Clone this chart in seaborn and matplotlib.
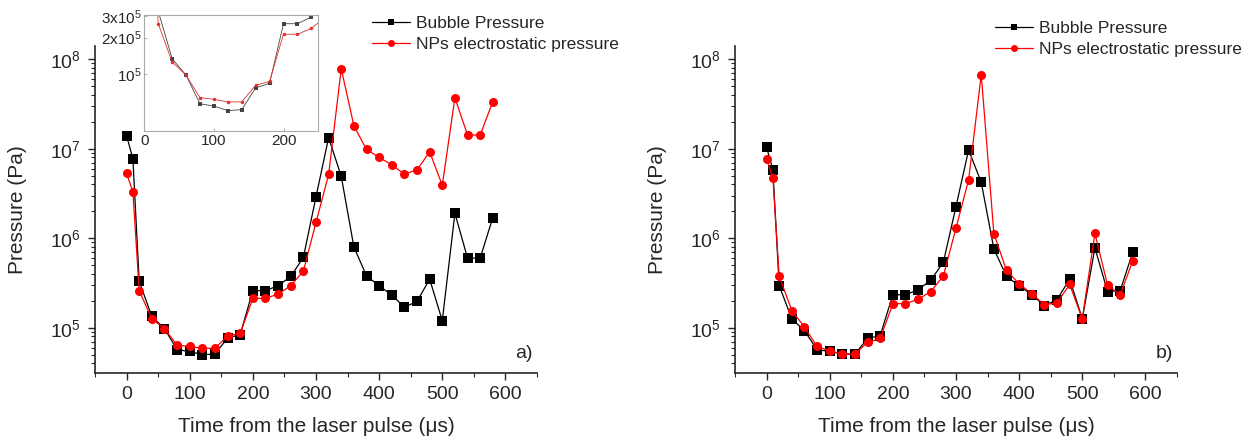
import numpy as np
import pandas as pd
import matplotlib
matplotlib.use("Agg")
import matplotlib.pyplot as plt
from matplotlib.lines import Line2D
from matplotlib.ticker import MultipleLocator, FixedLocator, FixedFormatter, NullLocator
import seaborn as sns

# tiempos (us)
time_us = [0, 10, 20, 40, 60, 80, 100, 120, 140, 160, 180, 200, 220, 240, 260,
           280, 300, 320, 340, 360, 380, 400, 420, 440, 460, 480, 500, 520, 540, 560, 580]

# panel a)
bubble_a = [1.4e7, 7.7e6, 3.3e5, 1.34e5, 9.8e4, 5.7e4, 5.45e4, 5.0e4, 5.1e4, 7.7e4, 8.4e4,
            2.6e5, 2.6e5, 2.95e5, 3.75e5, 6.1e5, 2.9e6, 1.33e7, 4.9e6, 8.0e5, 3.8e5,
            2.95e5, 2.32e5, 1.7e5, 1.97e5, 3.5e5, 1.2e5, 1.9e6, 6.0e5, 6.0e5, 1.7e6]
nps_a = [5.3e6, 3.3e6, 2.6e5, 1.26e5, 9.8e4, 6.4e4, 6.2e4, 5.9e4, 5.9e4, 8.1e4, 8.7e4,
         2.13e5, 2.13e5, 2.38e5, 2.95e5, 4.3e5, 1.5e6, 5.15e6, 7.8e7, 1.8e7, 9.8e6,
         8.0e6, 6.6e6, 5.2e6, 5.8e6, 9.2e6, 3.9e6, 3.7e7, 1.42e7, 1.42e7, 3.35e7]

# panel b)
bubble_b = [1.04e7, 5.8e6, 2.95e5, 1.26e5, 9.3e4, 5.7e4, 5.45e4, 5.1e4, 5.1e4, 7.6e4, 8.2e4,
            2.34e5, 2.34e5, 2.66e5, 3.4e5, 5.4e5, 2.26e6, 9.7e6, 4.2e6, 7.6e5, 3.75e5,
            2.95e5, 2.34e5, 1.77e5, 2.06e5, 3.5e5, 1.26e5, 7.8e5, 2.54e5, 2.6e5, 7.0e5]
nps_b = [7.7e6, 4.7e6, 3.75e5, 1.56e5, 1.02e5, 6.2e4, 5.55e4, 5.1e4, 5.1e4, 6.9e4, 7.6e4,
         1.86e5, 1.86e5, 2.08e5, 2.54e5, 3.8e5, 1.3e6, 4.5e6, 6.7e7, 1.12e6, 4.37e5,
         3.1e5, 2.4e5, 1.81e5, 1.9e5, 3.05e5, 1.26e5, 1.13e6, 3.0e5, 2.34e5, 5.6e5]

labels = ["Bubble Pressure", "NPs electrostatic pressure"]
inset_ticks = [1e5, 2e5, 3e5]
inset_ticklabels = [r"$\mathregular{10^5}$", r"$\mathregular{2x10^5}$", r"$\mathregular{3x10^5}$"]

sns.set_style("ticks")
plt.rcParams["font.family"] = ["Liberation Sans", "DejaVu Sans"]
plt.rcParams["mathtext.fontset"] = "custom"
plt.rcParams["mathtext.rm"] = "Liberation Sans"
plt.rcParams["mathtext.it"] = "Liberation Sans"
plt.rcParams["mathtext.bf"] = "Liberation Sans"

colores = {labels[0]: "#000000", labels[1]: "#ff0000"}
marcas = {labels[0]: "s", labels[1]: "o"}


def make_df(bubble, nps):
    return pd.DataFrame({
        "t": time_us + time_us,
        "p": bubble + nps,
        "serie": [labels[0]] * len(time_us) + [labels[1]] * len(time_us),
    })


def draw_panel(ax, df, tag):
    sns.lineplot(data=df, x="t", y="p", hue="serie", style="serie", hue_order=labels,
                 palette=colores, markers=marcas, dashes=False, markersize=6.5,
                 markeredgewidth=0, linewidth=0.9, legend=False, ax=ax)
    ax.set_yscale("log")
    ax.set_xlim(-50, 650)
    ax.set_ylim(10 ** 4.5, 1.4e8)
    ax.xaxis.set_major_locator(MultipleLocator(100))
    ax.xaxis.set_minor_locator(MultipleLocator(50))
    ax.tick_params(which="major", direction="out", length=5, width=1, labelsize=14, pad=5)
    ax.tick_params(which="minor", direction="out", length=3, width=0.8)
    for s in ["left", "bottom"]:
        ax.spines[s].set_linewidth(1.2)
    sns.despine(ax=ax)
    ax.set_xlabel("Time from the laser pulse (\u03bcs)", fontsize=15)
    ax.set_ylabel("Pressure (Pa)", fontsize=15)
    ax.xaxis.set_label_coords(0.5, -0.135)
    ax.yaxis.set_label_coords(-0.154, 0.5)
    ax.text(0.991, 0.06, tag, transform=ax.transAxes, ha="right", va="center", fontsize=14)


def add_legend(ax, anchor):
    handles = [Line2D([], [], color=colores[l], marker=marcas[l], markersize=5,
                      markeredgewidth=0, linewidth=0.9) for l in labels]
    ax.legend(handles, labels, loc="upper left", bbox_to_anchor=anchor,
              bbox_transform=ax.figure.transFigure, frameon=False, fontsize=12.5,
              handlelength=2.2, handletextpad=0.35, labelspacing=0.32, borderpad=0,
              borderaxespad=0)


fig = plt.figure(figsize=(12.49, 4.41), dpi=100)
ax_a = fig.add_axes([95 / 1249, 1 - 372.6 / 441, 442 / 1249, 326.6 / 441])
ax_b = fig.add_axes([735 / 1249, 1 - 372.6 / 441, 442 / 1249, 326.6 / 441])

df_a = make_df(bubble_a, nps_a)
df_b = make_df(bubble_b, nps_b)

draw_panel(ax_a, df_a, "a)")
draw_panel(ax_b, df_b, "b)")
add_legend(ax_a, (372 / 1249, 1 - 16 / 441))
add_legend(ax_b, (995 / 1249, 1 - 21 / 441))

# inset del panel a)
ax_in = fig.add_axes([144.3 / 1249, 1 - 131 / 441, 174 / 1249, 115.7 / 441])
sns.lineplot(data=df_a, x="t", y="p", hue="serie", style="serie", hue_order=labels,
             palette={labels[0]: "#444444", labels[1]: "#e03030"}, markers=marcas,
             dashes=False, markersize=2.5, markeredgewidth=0, linewidth=0.6,
             legend=False, ax=ax_in)
ax_in.set_yscale("log")
ax_in.set_xlim(0, 250)
ax_in.set_ylim(3.4e4, 3.05e5)
ax_in.xaxis.set_major_locator(FixedLocator([0, 100, 200]))
ax_in.yaxis.set_major_locator(FixedLocator(inset_ticks))
ax_in.yaxis.set_major_formatter(FixedFormatter(inset_ticklabels))
ax_in.yaxis.set_minor_locator(NullLocator())
ax_in.tick_params(which="both", direction="in", length=2, width=0.6, color="#999999",
                  labelsize=11, pad=2)
for s in ax_in.spines.values():
    s.set_color("#aaaaaa")
    s.set_linewidth(0.8)
ax_in.set_xlabel("")
ax_in.set_ylabel("")

fig.savefig("out.png", dpi=100)
